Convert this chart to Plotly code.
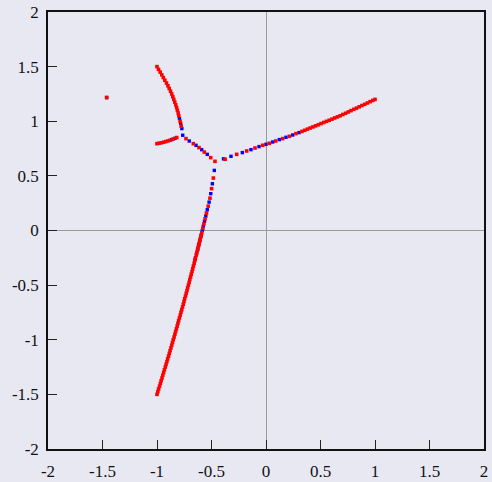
import plotly.graph_objects as go

# ---- data ----
# isolated point
iso_x = [-1.462]
iso_y = [1.217]

# upper arc: dense red part
arc_red_x = [-1.000, -0.986, -0.971, -0.956, -0.942, -0.928, -0.913, -0.900, -0.888, -0.876,
             -0.865, -0.855, -0.846, -0.837, -0.828, -0.820, -0.813, -0.806, -0.800, -0.788, -0.778]
arc_red_y = [1.500, 1.475, 1.450, 1.425, 1.400, 1.375, 1.350, 1.325, 1.300, 1.275,
             1.250, 1.225, 1.200, 1.175, 1.150, 1.125, 1.100, 1.075, 1.050, 1.000, 0.955]
arc_blue_x = [-0.794, -0.783, -0.772]
arc_blue_y = [1.025, 0.980, 0.933]

# short lower-left branch
left_red_x = [-1.000, -0.980, -0.960, -0.940, -0.920, -0.900, -0.880, -0.850, -0.819]
left_red_y = [0.795, 0.799, 0.803, 0.808, 0.814, 0.820, 0.826, 0.838, 0.851]
left_blue_x = [-0.865, -0.835]
left_blue_y = [0.832, 0.844]

# diagonal branch towards the breakaway point
diag_red_x = [-0.734, -0.667, -0.615, -0.566, -0.507, -0.468]
diag_red_y = [0.841, 0.795, 0.759, 0.718, 0.667, 0.633]
diag_blue_x = [-0.764, -0.704, -0.642, -0.590, -0.539]
diag_blue_y = [0.872, 0.819, 0.780, 0.740, 0.697]

# right branch
right_red_x = [-0.375, -0.269, -0.177, -0.101, -0.030, 0.030, 0.089, 0.153, 0.214, 0.275,
               0.330, 0.355, 0.380, 0.405, 0.430, 0.455, 0.480, 0.505, 0.530, 0.555,
               0.580, 0.605, 0.630, 0.655, 0.680, 0.705, 0.730, 0.755, 0.780, 0.805,
               0.830, 0.855, 0.880, 0.905, 0.930, 0.955, 0.980, 1.000]
right_red_y = [0.652, 0.697, 0.728, 0.755, 0.780, 0.798, 0.819, 0.841, 0.862, 0.887,
               0.907, 0.917, 0.928, 0.938, 0.948, 0.958, 0.968, 0.979, 0.989, 0.999,
               1.009, 1.019, 1.030, 1.040, 1.050, 1.062, 1.073, 1.085, 1.097, 1.109,
               1.120, 1.132, 1.144, 1.155, 1.167, 1.179, 1.191, 1.200]
right_blue_x = [-0.390, -0.321, -0.217, -0.138, -0.064, 0.000, 0.061, 0.122, 0.183, 0.245, 0.303]
right_blue_y = [0.656, 0.679, 0.713, 0.740, 0.768, 0.789, 0.810, 0.832, 0.853, 0.874, 0.896]

# lower branch
down_red_x = [-0.483, -0.499, -0.514, -0.530, -0.546, -0.559, -0.570, -0.579,
              -0.589, -0.594, -0.599, -0.604, -0.609, -0.614, -0.619, -0.624, -0.629, -0.634,
              -0.640, -0.647, -0.653, -0.659, -0.666, -0.672, -0.679, -0.686, -0.692, -0.699,
              -0.705, -0.712, -0.719, -0.725, -0.732, -0.739, -0.746, -0.752, -0.759, -0.766,
              -0.773, -0.780, -0.787, -0.794, -0.801, -0.808, -0.815, -0.822, -0.829, -0.836,
              -0.843, -0.851, -0.858, -0.865, -0.872, -0.880, -0.887, -0.894, -0.902, -0.909,
              -0.917, -0.924, -0.932, -0.939, -0.947, -0.954, -0.962, -0.969, -0.977, -0.985,
              -0.992, -1.000]
down_red_y = [0.480, 0.383, 0.296, 0.223, 0.160, 0.107, 0.060, 0.020,
              -0.020, -0.040, -0.060, -0.080, -0.100, -0.120, -0.140, -0.160, -0.180, -0.200,
              -0.225, -0.250, -0.275, -0.300, -0.325, -0.350, -0.375, -0.400, -0.425, -0.450,
              -0.475, -0.500, -0.525, -0.550, -0.575, -0.600, -0.625, -0.650, -0.675, -0.700,
              -0.725, -0.750, -0.775, -0.800, -0.825, -0.850, -0.875, -0.900, -0.925, -0.950,
              -0.975, -1.000, -1.025, -1.050, -1.075, -1.100, -1.125, -1.150, -1.175, -1.200,
              -1.225, -1.250, -1.275, -1.300, -1.325, -1.350, -1.375, -1.400, -1.425, -1.450,
              -1.475, -1.500]
down_blue_x = [-0.474, -0.492, -0.507, -0.522, -0.539, -0.552, -0.564, -0.575, -0.584,
               -0.596, -0.606, -0.616, -0.626, -0.637, -0.650]
down_blue_y = [0.550, 0.428, 0.337, 0.260, 0.190, 0.133, 0.083, 0.040, 0.000,
               -0.050, -0.090, -0.130, -0.170, -0.212, -0.262]

tick_vals = [-2, -1.5, -1, -0.5, 0, 0.5, 1, 1.5, 2]
tick_text = ["-2", "-1.5", "-1", "-0.5", "0", "0.5", "1", "1.5", "2"]

# ---- figure ----
blue_x = arc_blue_x + left_blue_x + diag_blue_x + right_blue_x + down_blue_x + iso_x
blue_y = arc_blue_y + left_blue_y + diag_blue_y + right_blue_y + down_blue_y + iso_y
red_x = arc_red_x + left_red_x + diag_red_x + right_red_x + down_red_x + iso_x
red_y = arc_red_y + left_red_y + diag_red_y + right_red_y + down_red_y + iso_y

fig = go.Figure()
fig.add_trace(go.Scatter(x=blue_x, y=blue_y, mode="markers",
                         marker=dict(color="#0000ff", size=3.4, symbol="square",
                                     line=dict(width=0)),
                         hoverinfo="skip", showlegend=False, cliponaxis=False))
fig.add_trace(go.Scatter(x=red_x, y=red_y, mode="markers",
                         marker=dict(color="#ff0000", size=3.6, symbol="square",
                                     line=dict(width=0)),
                         hoverinfo="skip", showlegend=False, cliponaxis=False))

bg = "#e8e8f2"
serif = "Liberation Serif"
axis_common = dict(
    range=[-2, 2], tickmode="array", tickvals=tick_vals, ticktext=tick_text,
    ticks="inside", ticklen=9, tickwidth=1, tickcolor="#222222",
    showgrid=False, zeroline=True, zerolinecolor="#9a9a9a", zerolinewidth=1,
    showline=True, linecolor="#111111", linewidth=1.6, mirror=True,
    tickfont=dict(family=serif, size=17, color="#111111"),
    automargin=False, ticklabeloverflow="allow",
)
fig.update_layout(
    width=492, height=482,
    margin=dict(l=48, r=8, t=12, b=33, pad=0),
    paper_bgcolor=bg, plot_bgcolor=bg,
    font=dict(family=serif),
    xaxis=dict(**axis_common, ticklabelstandoff=6),
    yaxis=dict(**axis_common, ticklabelstandoff=4),
)
fig.write_html("out.html", config=dict(displayModeBar=False),
               post_script="document.body.style.margin='0';document.body.style.background='#e8e8f2';")
